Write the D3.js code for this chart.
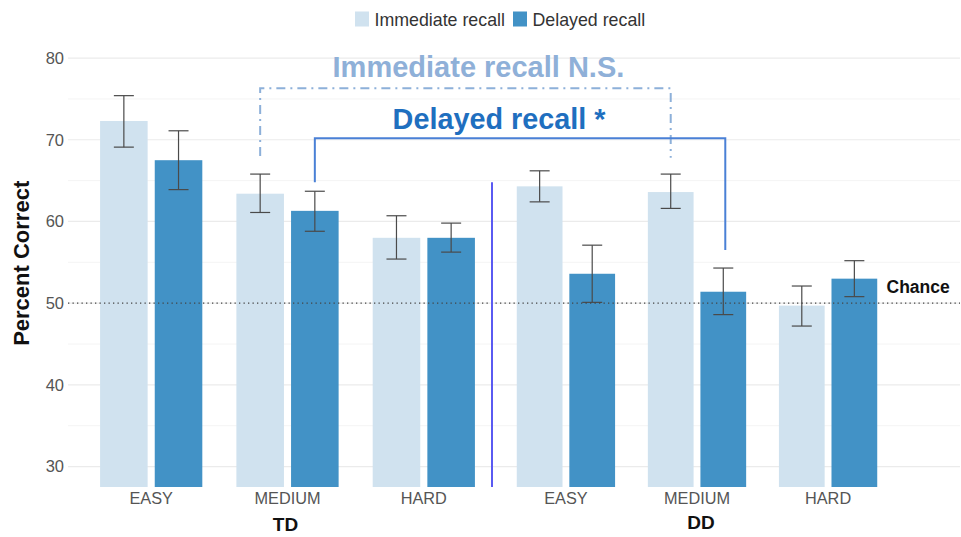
<!DOCTYPE html>
<html>
<head>
<meta charset="utf-8">
<script src="https://cdn.jsdelivr.net/npm/d3@7"></script>
<style>
  html, body { margin: 0; padding: 0; background: #fff; }
  svg { display: block; font-family: "Liberation Sans", Arial, sans-serif; }
</style>
</head>
<body>
<svg id="chart" width="961" height="537"></svg>
<script>
// Recall accuracy by difficulty, for the TD and DD groups
const groups = ["TD", "DD"];
const levels = ["EASY", "MEDIUM", "HARD"];
const seriesNames = ["Immediate recall", "Delayed recall"];

// Mean percent correct, ordered TD EASY..HARD then DD EASY..HARD
const immediateMean = [72.3, 63.4, 58.0, 64.3, 63.6, 49.7];
const immediateLow  = [69.1, 61.1, 55.4, 62.4, 61.6, 47.2];
const immediateHigh = [75.4, 65.8, 60.7, 66.2, 65.8, 52.1];

const delayedMean = [67.5, 61.3, 58.0, 53.6, 51.4, 53.0];
const delayedLow  = [63.9, 58.8, 56.25, 50.1, 48.6, 50.8];
const delayedHigh = [71.1, 63.7, 59.8, 57.1, 54.3, 55.2];

const yTicks = [30, 40, 50, 60, 70, 80];
const chanceLevel = 50;

const colors = ["#d0e2ef", "#4292c6"];

const svg = d3.select("#chart");
const plotLeft = 68, plotRight = 960, plotTop = 45, plotBottom = 487;

const y = d3.scaleLinear().domain([27.5, 81.6]).range([plotBottom, plotTop]);

// One band scale per group panel
const panelRanges = { TD: [66, 509], DD: [484, 910] };
const xGroup = {};
groups.forEach(g => {
  xGroup[g] = d3.scaleBand().domain(levels).range(panelRanges[g])
    .paddingInner(0.25).paddingOuter(0.25);
});
const seriesScale = g => d3.scaleBand().domain([0, 1])
  .range([0, xGroup[g].bandwidth()]).paddingInner(0.13);

const rows = [];
groups.forEach((g, gi) => {
  levels.forEach((lv, li) => {
    const i = gi * 3 + li;
    rows.push({ group: g, level: lv,
      values: [
        { s: 0, mean: immediateMean[i], lo: immediateLow[i], hi: immediateHigh[i] },
        { s: 1, mean: delayedMean[i], lo: delayedLow[i], hi: delayedHigh[i] }
      ]});
  });
});

// Grid lines
const minorTicks = d3.range(35, 81, 10);
svg.append("g").selectAll("line").data(minorTicks).join("line")
  .attr("x1", plotLeft).attr("x2", plotRight)
  .attr("y1", d => y(d)).attr("y2", d => y(d))
  .attr("stroke", "#f4f4f4").attr("stroke-width", 1);
svg.append("g").selectAll("line").data(yTicks).join("line")
  .attr("x1", plotLeft).attr("x2", plotRight)
  .attr("y1", d => y(d)).attr("y2", d => y(d))
  .attr("stroke", "#ebebeb").attr("stroke-width", 1.2);

// Y axis labels
const yAxis = d3.axisLeft(y).tickValues(yTicks).tickSize(0).tickPadding(4);
const yg = svg.append("g").attr("transform", `translate(${plotLeft},0)`).call(yAxis);
yg.select(".domain").remove();
yg.selectAll("text").attr("font-size", 16.5).attr("fill", "#555")
  .attr("font-family", "Liberation Sans, Arial, sans-serif");

svg.append("text")
  .attr("transform", `translate(29,${(y(80) + y(30)) / 2 + 1}) rotate(-90)`)
  .attr("text-anchor", "middle").attr("font-size", 22).attr("font-weight", "bold")
  .attr("fill", "#111").text("Percent Correct");

// Bars and error bars
groups.forEach(g => {
  const xg = xGroup[g];
  const xs = seriesScale(g);
  const cell = svg.append("g").selectAll("g")
    .data(rows.filter(r => r.group === g)).join("g")
    .attr("transform", d => `translate(${xg(d.level)},0)`);

  cell.selectAll("rect").data(d => d.values).join("rect")
    .attr("x", d => xs(d.s)).attr("width", xs.bandwidth())
    .attr("y", d => y(d.mean)).attr("height", d => plotBottom - y(d.mean))
    .attr("fill", d => colors[d.s]);

  const eb = cell.selectAll("g.err").data(d => d.values).join("g").attr("class", "err")
    .attr("stroke", "#4a4a4a").attr("stroke-width", 1.2);
  const cx = d => xs(d.s) + xs.bandwidth() / 2;
  eb.append("line").attr("x1", cx).attr("x2", cx)
    .attr("y1", d => y(d.hi)).attr("y2", d => y(d.lo));
  eb.append("line").attr("x1", d => cx(d) - 10).attr("x2", d => cx(d) + 10)
    .attr("y1", d => y(d.hi)).attr("y2", d => y(d.hi));
  eb.append("line").attr("x1", d => cx(d) - 10).attr("x2", d => cx(d) + 10)
    .attr("y1", d => y(d.lo)).attr("y2", d => y(d.lo));

  // Category labels
  svg.append("g").selectAll("text").data(levels).join("text")
    .attr("x", d => xg(d) + xg.bandwidth() / 2).attr("y", 504)
    .attr("text-anchor", "middle").attr("font-size", 16.3).attr("fill", "#555")
    .text(d => d);
});

// Group labels
svg.append("text").attr("x", (xGroup.TD("EASY") + xGroup.TD("HARD") + xGroup.TD.bandwidth()) / 2 - 2)
  .attr("y", 531).attr("text-anchor", "middle").attr("font-size", 19)
  .attr("font-weight", "bold").attr("fill", "#111").text("TD");
svg.append("text").attr("x", (xGroup.DD("EASY") + xGroup.DD("HARD") + xGroup.DD.bandwidth()) / 2 + 4)
  .attr("y", 529).attr("text-anchor", "middle").attr("font-size", 19)
  .attr("font-weight", "bold").attr("fill", "#111").text("DD");

// Chance line
svg.append("line").attr("x1", plotLeft).attr("x2", plotRight)
  .attr("y1", y(chanceLevel)).attr("y2", y(chanceLevel))
  .attr("stroke", "#444").attr("stroke-width", 1.3).attr("stroke-dasharray", "1.3,3.2");
svg.append("text").attr("x", 886.5).attr("y", y(chanceLevel) - 10)
  .attr("font-size", 17.5).attr("font-weight", "bold").attr("fill", "#111").text("Chance");

// Group separator
svg.append("line").attr("x1", 492).attr("x2", 492)
  .attr("y1", y(64.8)).attr("y2", plotBottom)
  .attr("stroke", "#5a5af2").attr("stroke-width", 2);

// Comparison brackets (TD MEDIUM vs DD MEDIUM)
const barCenter = (g, lv, s) => {
  const xs = seriesScale(g);
  return xGroup[g](lv) + xs(s) + xs.bandwidth() / 2;
};
const immL = barCenter("TD", "MEDIUM", 0), immR = barCenter("DD", "MEDIUM", 0);
const delL = barCenter("TD", "MEDIUM", 1), delR = barCenter("DD", "MEDIUM", 1) + 2;

svg.append("path")
  .attr("d", `M${immL},${y(68.0)} V${y(76.3)} H${immR} V${y(67.8)}`)
  .attr("fill", "none").attr("stroke", "#8db0d9").attr("stroke-width", 2)
  .attr("stroke-dasharray", "9,5,2,5");
svg.append("path")
  .attr("d", `M${delL},${y(64.8)} V${y(70.2)} H${delR} V${y(56.5)}`)
  .attr("fill", "none").attr("stroke", "#4a80d6").attr("stroke-width", 2);

svg.append("text").attr("x", (immL + immR) / 2 + 13).attr("y", y(76.3) - 11.5)
  .attr("text-anchor", "middle").attr("font-size", 29).attr("font-weight", "bold")
  .attr("fill", "#8fb0d8").text("Immediate recall N.S.");
svg.append("text").attr("x", (delL + delR) / 2 - 21).attr("y", y(70.2) - 9)
  .attr("text-anchor", "middle").attr("font-size", 28.8).attr("font-weight", "bold")
  .attr("fill", "#1f6fbf").text("Delayed recall *");

// Legend
const legend = svg.append("g");
const legendX = [355, 513];
seriesNames.forEach((name, i) => {
  legend.append("rect").attr("x", legendX[i]).attr("y", 11.5).attr("width", 14).attr("height", 15)
    .attr("fill", colors[i]);
  legend.append("text").attr("x", legendX[i] + 19.5).attr("y", 26)
    .attr("font-size", 17.8).attr("fill", "#333").text(name);
});
</script>
</body>
</html>
